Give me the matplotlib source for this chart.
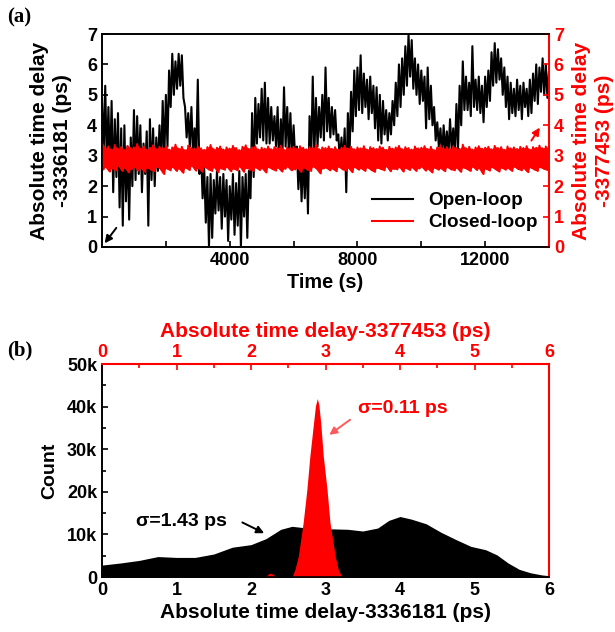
import matplotlib
matplotlib.use("Agg")
import matplotlib.pyplot as plt
import numpy as np

plt.rcParams.update(
    {
        "font.family": ["Liberation Sans", "DejaVu Sans"],
        "font.weight": "bold",
        "axes.labelweight": "bold",
        "axes.linewidth": 1.2,
        "xtick.direction": "in",
        "ytick.direction": "in",
    }
)

RED = "#ff0000"

# %% Data, panel (a): min / max of each 100 s window

t_step = 100
open_hi = [
    4.9, 5.3, 4.6, 4.8, 4.2, 4.4, 3.9, 4.0, 3.3, 3.6,
    4.5, 4.3, 4.0, 3.4, 3.8, 4.2, 3.9, 3.6, 4.0, 4.8,
    5.0, 5.8, 6.35, 6.1, 6.35, 6.3, 4.6, 4.4, 4.6, 3.9,
    5.5, 3.2, 2.6, 2.3, 2.4, 2.2, 2.5, 2.3, 2.4, 2.2,
    2.0, 2.4, 2.1, 2.5, 2.3, 2.4, 2.5, 4.4, 4.9, 4.7,
    5.2, 5.4, 4.9, 4.6, 4.3, 4.6, 4.2, 5.25, 4.6, 4.4,
    4.0, 3.3, 3.1, 3.0, 3.2, 4.3, 5.6, 4.9, 4.6, 5.0,
    5.9, 4.9, 4.6, 4.5, 3.7, 3.6, 3.9, 4.4, 5.1, 5.8,
    5.9, 6.3, 5.7, 5.5, 5.6, 5.3, 5.25, 5.0, 4.8, 4.5,
    4.4, 4.8, 5.4, 6.0, 6.2, 6.6, 7.0, 6.8, 6.2, 6.0,
    5.8, 5.6, 5.9, 5.3, 4.6, 4.1, 3.9, 4.0, 3.8, 4.2,
    3.9, 4.7, 5.3, 6.1, 5.6, 5.4, 6.6, 5.5, 5.6, 5.3,
    5.6, 5.8, 6.4, 6.7, 6.5, 6.2, 5.9, 5.6, 5.4, 5.2,
    5.5, 5.3, 5.4, 5.2, 5.5, 5.7, 6.0, 5.9, 6.2, 6.0,
    5.8,
]
open_lo = [
    3.0, 2.7, 2.5, 1.8, 2.3, 1.3, 0.7, 1.5, 0.9, 2.0,
    2.2, 2.4, 1.8, 2.4, 0.7, 2.2, 2.0, 2.5, 2.6, 2.9,
    3.3, 4.6, 5.0, 5.2, 5.3, 4.9, 3.6, 3.3, 3.0, 3.0,
    2.4, 1.6, 0.8, 0.0, 0.3, 1.1, 1.2, 0.6, 1.0, 0.2,
    0.9, 0.4, 0.7, 0.0, 1.0, 0.3, 1.6, 2.3, 3.4, 3.6,
    3.5, 3.4, 3.4, 3.5, 3.3, 2.6, 3.0, 3.3, 3.1, 2.8,
    2.9, 1.9, 1.5, 1.6, 1.1, 2.8, 3.0, 3.3, 3.6, 3.5,
    3.8, 3.6, 3.7, 3.5, 2.8, 2.7, 1.8, 2.9, 3.8, 4.3,
    4.5, 4.4, 4.6, 4.2, 4.4, 3.9, 3.5, 3.4, 3.7, 3.5,
    3.7, 4.0, 4.3, 4.6, 5.0, 5.3, 5.6, 5.2, 5.0, 4.7,
    4.8, 3.9, 4.2, 4.0, 3.5, 3.3, 3.0, 3.1, 3.0, 3.2,
    3.0, 3.2, 4.0, 4.5, 4.5, 4.3, 4.6, 4.5, 4.4, 4.1,
    4.6, 4.8, 5.3, 5.4, 5.5, 5.0, 4.6, 4.2, 4.4, 4.3,
    4.5, 4.2, 4.6, 4.3, 4.4, 4.8, 4.7, 5.1, 5.0, 4.9,
    5.0,
]
closed_hi = [
    3.45, 3.25, 3.30, 3.20, 3.35, 3.22, 3.28, 3.18, 3.32, 3.25,
    3.27, 3.38, 3.22, 3.30, 3.19, 3.26, 3.34, 3.21, 3.29, 3.24,
    3.31, 3.20, 3.27, 3.36, 3.23, 3.29, 3.18, 3.33, 3.25, 3.22,
    3.30, 3.24, 3.19, 3.28, 3.35, 3.21, 3.26, 3.30, 3.20, 3.27,
    3.23, 3.32, 3.25, 3.18, 3.29, 3.34, 3.22, 3.27, 3.31, 3.20,
    3.26, 3.23, 3.30, 3.21, 3.28, 3.25, 3.33, 3.19, 3.27, 3.24,
    3.29, 3.22, 3.31, 3.26, 3.20, 3.28, 3.24, 3.35, 3.21, 3.27,
    3.25, 3.30, 3.22, 3.28, 3.19, 3.26, 3.32, 3.23, 3.29, 3.21,
    3.27, 3.24, 3.31, 3.20, 3.28, 3.25, 3.22, 3.30, 3.26, 3.19,
    3.29, 3.23, 3.27, 3.32, 3.21, 3.28, 3.25, 3.20, 3.30, 3.24,
    3.26, 3.31, 3.22, 3.29, 3.18, 3.27, 3.33, 3.23, 3.28, 3.21,
    3.30, 3.25, 3.22, 3.36, 3.24, 3.29, 3.20, 3.27, 3.31, 3.23,
    3.26, 3.29, 3.21, 3.32, 3.25, 3.28, 3.19, 3.30, 3.24, 3.27,
    3.22, 3.29, 3.25, 3.31, 3.20, 3.28, 3.26, 3.33, 3.24, 3.30,
    3.27,
]
closed_lo = [
    2.55, 2.62, 2.48, 2.58, 2.52, 2.66, 2.50, 2.60, 2.45, 2.57,
    2.63, 2.51, 2.59, 2.47, 2.61, 2.54, 2.49, 2.64, 2.56, 2.40,
    2.58, 2.52, 2.62, 2.50, 2.57, 2.44, 2.60, 2.53, 2.66, 2.51,
    2.59, 2.48, 2.63, 2.55, 2.50, 2.61, 2.46, 2.58, 2.54, 2.62,
    2.49, 2.57, 2.52, 2.64, 2.47, 2.59, 2.55, 2.50, 2.61, 2.53,
    2.58, 2.45, 2.62, 2.56, 2.51, 2.60, 2.48, 2.57, 2.63, 2.52,
    2.55, 2.59, 2.47, 2.61, 2.54, 2.50, 2.64, 2.56, 2.42, 2.58,
    2.60, 2.52, 2.57, 2.49, 2.63, 2.55, 2.51, 2.59, 2.46, 2.62,
    2.54, 2.58, 2.50, 2.61, 2.53, 2.47, 2.60, 2.56, 2.52, 2.64,
    2.49, 2.57, 2.55, 2.62, 2.48, 2.59, 2.53, 2.61, 2.50, 2.58,
    2.63, 2.51, 2.56, 2.45, 2.60, 2.54, 2.58, 2.49, 2.62, 2.55,
    2.52, 2.59, 2.47, 2.61, 2.56, 2.50, 2.63, 2.53, 2.58, 2.40,
    2.57, 2.51, 2.62, 2.55, 2.48, 2.60, 2.54, 2.59, 2.50, 2.63,
    2.56, 2.52, 2.58, 2.46, 2.61, 2.55, 2.50, 2.62, 2.57, 2.53,
    2.59,
]

# %% Data, panel (b): count distributions (k counts)

open_x = [0, 0.25, 0.5, 0.75, 1.0, 1.25, 1.5, 1.75, 2.0, 2.2, 2.4, 2.55,
          2.7, 2.9, 3.1, 3.3, 3.5, 3.7, 3.85, 4.0, 4.15, 4.35, 4.55, 4.75,
          4.95, 5.15, 5.3, 5.45, 5.6, 5.75, 5.9, 6.0]
open_cnt = [2.8, 3.3, 3.9, 4.8, 4.6, 4.6, 5.4, 7.0, 7.6, 9.0, 11.2, 11.9,
            11.6, 11.2, 11.3, 11.2, 10.8, 11.5, 13.3, 14.2, 13.6, 12.5, 10.5,
            8.8, 7.2, 6.4, 5.2, 3.3, 1.8, 1.0, 0.5, 0.3]
closed_x = [2.18, 2.25, 2.29, 2.34, 2.55, 2.59, 2.635, 2.70, 2.75, 2.79,
            2.84, 2.865, 2.89, 2.91, 2.935, 2.97, 3.02, 3.06, 3.13, 3.17, 3.22]
closed_cnt = [0, 0.9, 0.7, 0, 0, 1.8, 4.9, 12.8, 20.6, 28.4,
              36.3, 40.2, 41.9, 40.5, 36.3, 28.4, 20.6, 12.8, 4.9, 1.8, 0]

# %% Figure

TICK_FS = 13
LABEL_FS = 15

fig = plt.figure(figsize=(6.15, 6.32), dpi=100)
ax1 = fig.add_axes([0.1659, 0.6092, 0.7268, 0.337])
ax2 = fig.add_axes([0.1659, 0.0870, 0.7268, 0.337])

# --- panel (a)
n = len(open_hi)
t = np.arange(n) * t_step
t_zig = np.ravel(np.column_stack([t, t + t_step / 2]))[: 2 * n - 1]
open_zig = np.ravel(np.column_stack([open_hi, open_lo]))[: 2 * n - 1]
closed_zig = np.ravel(np.column_stack([closed_hi, closed_lo]))[: 2 * n - 1]

(l1,) = ax1.plot(t_zig, open_zig, c="k", lw=1.5, label="Open-loop")
ax1.set_xlim(0, 14000)
ax1.set_ylim(0, 7)
ax1.set_xticks(np.arange(2000, 14001, 2000))
ax1.set_xticklabels(["", "4000", "", "8000", "", "12000", ""])
ax1.set_yticks(range(8))
ax1.tick_params(labelsize=TICK_FS, length=4, width=1.2)
ax1.set_xlabel("Time (s)", fontsize=14.3, labelpad=3)
ax1.set_ylabel("Absolute time delay\n-3336181 (ps)", fontsize=LABEL_FS,
               linespacing=1.25, labelpad=11)

ax1r = ax1.twinx()
ax1r.fill_between(t, closed_lo, closed_hi, color=RED, lw=0)
(l2,) = ax1r.plot(t_zig, closed_zig, c=RED, lw=1.5, label="Closed-loop")
ax1r.set_ylim(0, 7)
ax1r.set_yticks(range(8))
ax1r.tick_params(axis="y", colors=RED, labelsize=TICK_FS, length=4, width=1.2)
ax1r.spines["right"].set_color(RED)
ax1r.spines["right"].set_linewidth(1.5)
ax1r.set_ylabel("Absolute time delay\n-3377453 (ps)", fontsize=LABEL_FS,
                color=RED, linespacing=1.25, labelpad=6)

ax1r.legend(handles=[l1, l2], loc="lower right", frameon=False,
            fontsize=13.6, handlelength=2.2, borderaxespad=0.2,
            labelspacing=0.25, bbox_to_anchor=(1.0, 0.02))

ax1.annotate("", xy=(30, 0.05), xytext=(500, 0.7),
             arrowprops=dict(arrowstyle="-|>", color="k", lw=1.4,
                             mutation_scale=11))
ax1r.annotate("", xy=(13760, 4.0), xytext=(13400, 3.42),
              arrowprops=dict(arrowstyle="-|>", color=RED, lw=1.4,
                              mutation_scale=11))

fig.text(0.012, 0.972, "(a)", fontsize=15, fontweight="bold",
         family="Liberation Serif", va="center")

# --- panel (b)
ax2.fill_between(open_x, np.array(open_cnt) * 1000, color="k", lw=0)
ax2.set_xlim(0, 6)
ax2.set_ylim(0, 50000)
ax2.set_xticks(range(7))
ax2.set_yticks(np.arange(0, 50001, 10000))
ax2.set_yticklabels(["0", "10k", "20k", "30k", "40k", "50k"])
ax2.set_yticks(np.arange(5000, 50000, 10000), minor=True)
ax2.tick_params(labelsize=TICK_FS, length=4, width=1.2)
ax2.tick_params(which="minor", length=3, width=1.2)
ax2.set_xlabel("Absolute time delay-3336181 (ps)", fontsize=LABEL_FS,
               labelpad=3)
ax2.set_ylabel("Count", fontsize=14, labelpad=6)

ax2t = ax2.twiny()
ax2t.fill_between(closed_x, np.array(closed_cnt) * 1000, color=RED, lw=0)
ax2t.set_xlim(0, 6)
ax2t.set_xticks(range(7))
ax2t.set_xticks(np.arange(0.5, 6, 1), minor=True)
ax2t.tick_params(axis="x", colors=RED, labelsize=TICK_FS, length=4, width=1.2,
                 pad=2)
ax2t.tick_params(axis="x", which="minor", colors=RED, length=3, width=1.2)
for side in ["top", "right"]:
    ax2t.spines[side].set_color(RED)
    ax2t.spines[side].set_linewidth(1.5)
ax2t.set_xlabel("Absolute time delay-3377453 (ps)", fontsize=LABEL_FS,
                color=RED, labelpad=5)

ax2t.annotate("", xy=(2.21, 10000), xytext=(1.85, 13100),
              arrowprops=dict(arrowstyle="-|>", color="k", lw=1.4,
                              mutation_scale=11))
ax2t.text(1.07, 13100, "σ=1.43 ps", fontsize=14, ha="center", va="center",
          color="k")
ax2t.annotate("", xy=(3.02, 33000), xytext=(3.36, 37300),
              arrowprops=dict(arrowstyle="-|>", color="#ff5a5a", lw=1.4,
                              mutation_scale=11))
ax2t.text(4.04, 39600, "σ=0.11 ps", fontsize=14, ha="center", va="center",
          color=RED)

fig.text(0.012, 0.446, "(b)", fontsize=15, fontweight="bold",
         family="Liberation Serif", va="center")

fig.savefig("out.png", dpi=100)
